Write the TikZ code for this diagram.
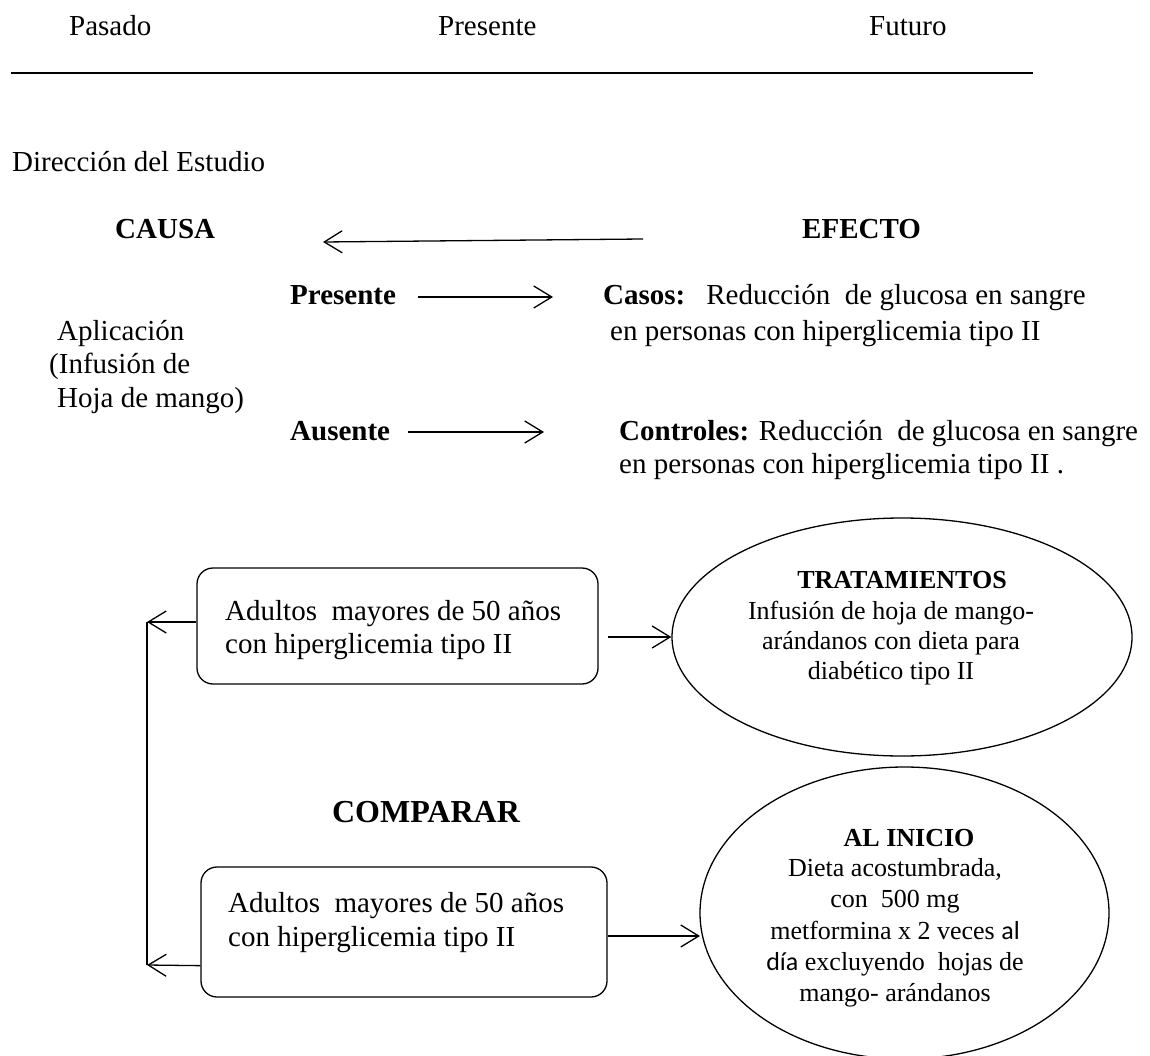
\documentclass[tikz,border=0pt]{standalone}
\usepackage{fontspec}
\setmainfont{Liberation Serif}
\newfontfamily\calfont{Carlito}
\usetikzlibrary{arrows.meta,shapes.geometric,calc}
\begin{document}
\begin{tikzpicture}[x=1pt,y=-1pt,
  txt/.style={inner sep=0pt, font=\fontsize{29}{33}\selectfont},
  btxt/.style={inner sep=0pt, font=\fontsize{29}{33}\selectfont\bfseries},
  etxt/.style={inner sep=0pt, font=\fontsize{26}{30}\selectfont},
  ebtxt/.style={inner sep=0pt, font=\fontsize{26}{30}\selectfont\bfseries},
  arr/.style={line width=1.3pt, -{Straight Barb[length=18pt,width=22pt]}},
  plain/.style={line width=1.3pt},
  boxst/.style={draw, line width=1.3pt, rounded corners=16pt, inner sep=0pt},
  ellst/.style={draw, ellipse, line width=1.3pt, inner sep=0pt}]
\useasboundingbox (0,0) rectangle (1150,1056);

% time line header
\node[txt, anchor=base west] (tPas) at (69,36) {Pasado};
\node[txt, anchor=base west] (tPre) at (438,36) {Presente};
\node[txt, anchor=base west] (tFut) at (869,36) {Futuro};
\coordinate (ruleL) at (11,73);
\coordinate (ruleR) at (1033,73);
\draw[line width=1.6pt] (ruleL) -- (ruleR);

\node[txt, anchor=base west] (dir) at (12,172) {Dirección del Estudio};

% causa / efecto
\node[btxt, anchor=base west] (causa) at (115,239) {CAUSA};
\node[btxt, anchor=base west] (efecto) at (802,239) {EFECTO};
\coordinate (ceR) at (643,239);
\coordinate (ceL) at (323,242);
\draw[arr] (ceR) -- (ceL);

% aplicacion
\node[txt, anchor=base west] (ap1) at (57,340) {Aplicación};
\node[txt, anchor=base west] (ap2) at (49,373) {(Infusión de};
\node[txt, anchor=base west] (ap3) at (57,407) {Hoja de mango)};

% presente / ausente
\node[btxt, anchor=base west] (pres) at (290,305) {Presente};
\node[btxt, anchor=base west] (aus) at (290,440) {Ausente};
\coordinate (pA) at (418,297);
\coordinate (pB) at (553,297);
\coordinate (aA) at (408,432);
\coordinate (aB) at (544,432);
\draw[arr] (pA) -- (pB);
\draw[arr] (aA) -- (aB);

\node[txt, anchor=base west] (cas1) at (603,305) {\textbf{Casos:}\hspace{21pt}Reducción\ \ de glucosa en sangre};
\node[txt, anchor=base west] (cas2) at (610,340) {en personas con hiperglicemia tipo II};
\node[txt, anchor=base west] (con1) at (619,440) {\textbf{Controles:} Reducción\ \ de glucosa en sangre};
\node[txt, anchor=base west] (con2) at (619,473) {en personas con hiperglicemia tipo II .};

% boxes
\node[boxst, minimum width=401pt, minimum height=116pt] (box1) at (397.5,626) {};
\node[txt, anchor=base west] (b1l1) at (225,620) {Adultos\ \ mayores de 50 años};
\node[txt, anchor=base west] (b1l2) at (225,653) {con hiperglicemia tipo II};

\node[boxst, minimum width=406pt, minimum height=130pt] (box2) at (404,932) {};
\node[txt, anchor=base west] (b2l1) at (228,912) {Adultos\ \ mayores de 50 años};
\node[txt, anchor=base west] (b2l2) at (228,946) {con hiperglicemia tipo II};

\node[inner sep=0pt, font=\fontsize{32}{36}\selectfont\bfseries, anchor=base] (comp) at (426,822) {COMPARAR};

% ellipses
\node[ellst, minimum width=460pt, minimum height=238pt] (ell1) at (902,637) {};
\node[ebtxt, anchor=base] (e1t) at (902,588) {TRATAMIENTOS};
\node[etxt, anchor=base] (e1a) at (891,619) {Infusión de hoja de mango-};
\node[etxt, anchor=base] (e1b) at (891,649) {arándanos con dieta para};
\node[etxt, anchor=base] (e1c) at (891,679) {diabético tipo II};

\node[ellst, minimum width=409pt, minimum height=292pt] (ell2) at (904.5,913) {};
\node[ebtxt, anchor=base] (e2t) at (909,846) {AL INICIO};
\node[etxt, anchor=base] (e2a) at (895,876) {Dieta acostumbrada,};
\node[etxt, anchor=base] (e2b) at (895,907) {con\ \ 500 mg};
\node[etxt, anchor=base] (e2c) at (895,939) {metformina x 2 veces {\calfont al}};
\node[etxt, anchor=base] (e2d) at (895,970) {{\calfont día} excluyendo\ \ hojas de};
\node[etxt, anchor=base] (e2e) at (895,1001) {mango- arándanos};

% connectors
\coordinate (jt) at (147,622);
\coordinate (jb) at (147,965);
\draw[arr] ($(box1.west)+(0,-4)$) -- (jt);
\draw[plain] (jt) -- (jb);
\draw[arr] ($(box2.south west)+(0,-32)$) -- (jb);

\coordinate (b1r) at ($(box1.east)+(9,11)$);
\draw[arr] (b1r) -- (b1r -| ell1.west);
\coordinate (b2r) at ($(box2.east)+(0,4)$);
\coordinate (e2l) at (700,936);
\draw[arr] (b2r) -- (e2l);
\end{tikzpicture}
\end{document}
